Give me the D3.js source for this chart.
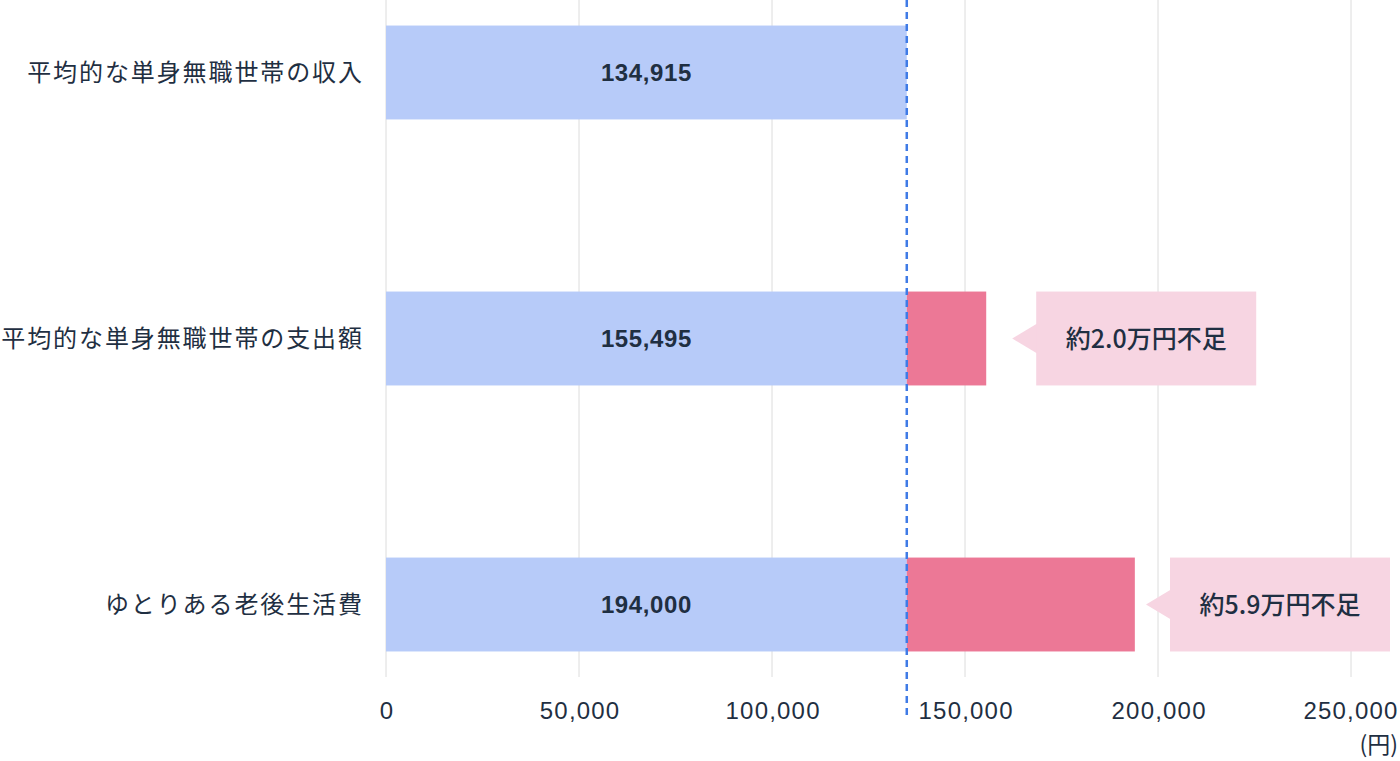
<!DOCTYPE html>
<html><head><meta charset="utf-8">
<script src="https://cdn.jsdelivr.net/npm/d3@7"></script>
<style>
html,body{margin:0;padding:0;background:#fff;}
svg{display:block;}
</style></head>
<body>
<svg id="chart" width="1400" height="761"></svg>
<script>
const categories = ["平均的な単身無職世帯の収入", "平均的な単身無職世帯の支出額", "ゆとりある老後生活費"];
const values = [134915, 155495, 194000];
const baseValue = 134915;
const shortfallLabels = ["", "約2.0万円不足", "約5.9万円不足"];
const tickValues = [0, 50000, 100000, 150000, 200000, 250000];
const unitLabel = "(円)";

const svg = d3.select("#chart");
const x = d3.scaleLinear().domain([0, 250000]).range([386, 1351]);
const y = d3.scaleBand().domain(categories).range([0, 677]).paddingInner(0.647).paddingOuter(0.096);

const latin = "'Liberation Sans', Arial, 'Noto Sans CJK JP', sans-serif";
const jp = "'Noto Sans CJK JP', sans-serif";
const textColor = "#1f2f42";

// grid lines
svg.append("g").selectAll("line").data(tickValues).join("line")
  .attr("x1", d => x(d)).attr("x2", d => x(d))
  .attr("y1", 0).attr("y2", 677)
  .attr("stroke", "#dcdcdc").attr("stroke-width", 1);

// tick labels via axis
const axis = d3.axisBottom(x).tickValues(tickValues).tickFormat(d3.format(",")).tickSize(0).tickPadding(0);
const ax = svg.append("g").attr("transform", "translate(0,702)").call(axis);
ax.select(".domain").remove();
ax.selectAll("text").attr("font-family", latin).attr("font-size", 24).attr("letter-spacing", 1.2)
  .attr("fill", textColor).attr("dy", "0.71em").attr("dx", 0.6);
ax.selectAll(".tick").filter(d => d === 250000).select("text").attr("dx", -0.5);

// unit label
svg.append("text").attr("x", 1398).attr("y", 753).attr("text-anchor", "end")
  .attr("font-family", jp).attr("font-size", 23).attr("fill", textColor).text(unitLabel);

// blue bars
svg.append("g").selectAll("rect").data(categories).join("rect")
  .attr("x", x(0)).attr("y", d => y(d))
  .attr("width", (d, i) => x(Math.min(values[i], baseValue)) - x(0))
  .attr("height", y.bandwidth()).attr("fill", "#b7cbf9");

// pink bars
svg.append("g").selectAll("rect").data(categories.filter((d, i) => values[i] > baseValue)).join("rect")
  .attr("x", x(baseValue)).attr("y", d => y(d))
  .attr("width", d => x(values[categories.indexOf(d)]) - x(baseValue))
  .attr("height", y.bandwidth()).attr("fill", "#ec7896");

// value labels
svg.append("g").selectAll("text").data(categories).join("text")
  .attr("x", (d, i) => (x(0) + x(Math.min(values[i], baseValue))) / 2)
  .attr("y", d => y(d) + y.bandwidth() / 2)
  .attr("dy", "0.35em").attr("text-anchor", "middle")
  .attr("font-family", latin).attr("font-weight", "bold").attr("font-size", 24).attr("letter-spacing", 0.6)
  .attr("fill", textColor)
  .text((d, i) => d3.format(",")(values[i]));

// category labels
const catSpacing = 1.9;
svg.append("g").selectAll("text").data(categories).join("text")
  .attr("x", 362 + catSpacing).attr("y", d => y(d) + y.bandwidth() / 2)
  .attr("dy", "0.36em").attr("text-anchor", "end")
  .attr("font-family", jp).attr("font-size", 24).attr("letter-spacing", catSpacing).attr("fill", textColor)
  .text(d => d);

// callouts
const boxW = 220;
const boxX = d => Math.min(x(d.v) + 50, 1390 - boxW);
const callouts = categories.map((c, i) => ({c, v: values[i], label: shortfallLabels[i]})).filter(d => d.label);
const cg = svg.append("g").selectAll("g").data(callouts).join("g");
cg.append("path").attr("fill", "#f7d5e2").attr("d", d => {
  const bx = boxX(d), cy = y(d.c) + y.bandwidth() / 2;
  return `M${bx - 24},${cy} L${bx + 1},${cy - 15} L${bx + 1},${cy + 15} Z`;
});
cg.append("rect").attr("fill", "#f7d5e2")
  .attr("x", d => boxX(d)).attr("y", d => y(d.c))
  .attr("width", boxW).attr("height", y.bandwidth());
cg.append("text")
  .attr("x", d => boxX(d) + boxW / 2).attr("y", d => y(d.c) + y.bandwidth() / 2)
  .attr("dy", "0.36em").attr("text-anchor", "middle")
  .attr("font-family", jp).attr("font-size", 25).attr("font-weight", 500).attr("fill", textColor)
  .text(d => d.label);

// dashed base line
svg.append("line").attr("x1", x(baseValue)).attr("x2", x(baseValue))
  .attr("y1", 0).attr("y2", 717)
  .attr("stroke", "#3f7be6").attr("stroke-width", 2.5).attr("stroke-dasharray", "7,5");
</script>
</body></html>
